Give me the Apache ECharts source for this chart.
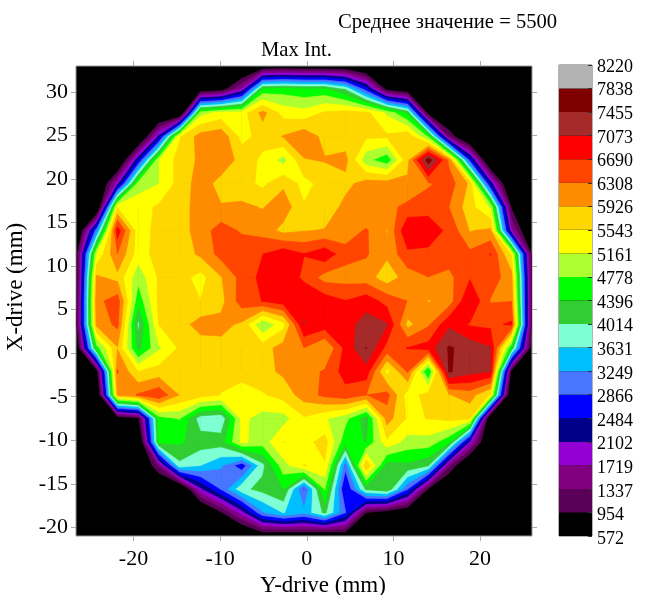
<!DOCTYPE html>
<html>
<head>
<meta charset="utf-8">
<style>html,body{margin:0;padding:0;background:#fff}#c{width:651px;height:595px}</style>
<script src="https://cdn.jsdelivr.net/npm/echarts@6/dist/echarts.min.js"></script>
</head>
<body>
<div id="c"></div>
<script>
const xNodes=[-26.64,-24.25,-21.85,-19.46,-17.07,-14.68,-12.28,-9.89,-7.5,-5.1,-2.71,-0.32,2.07,4.46,6.86,9.25,11.64,14.04,16.43,18.82,21.21,23.61,26];
const yNodes=[33,30.3,27.6,24.9,22.2,19.5,16.8,14.1,11.4,8.7,6,3.3,0.6,-2.1,-4.8,-7.5,-10.2,-12.9,-15.6,-18.3,-21];
const levels=[572,954,1337,1719,2102,2484,2866,3249,3631,4014,4396,4778,5161,5543,5926,6308,6690,7073,7455,7838,8220];
const bandColors=['#000000','#5a0058','#800080','#9400d3','#00008b','#0000ff','#4876ff','#00bfff','#7fffd4','#32cd32','#00ff00','#adff2f','#ffff00','#ffd700','#ff8c00','#ff4500','#ff0000','#a52a2a','#800000','#b3b3b3'];
const xTicks=[-20,-10,0,10,20];
const yTicks=[-20,-15,-10,-5,0,5,10,15,20,25,30];
const zRows=[
[0,0,0,0,0,0,0,0,0,400,500,430,430,400,100,0,0,0,0,0,0,0,0],
[0,0,0,0,0,0,500,700,1800,4500,4600,4500,4500,4000,2700,800,500,0,0,0,0,0,0],
[0,0,0,0,0,0,5000,5300,5350,6050,5400,5300,5600,5700,5650,5100,4300,700,0,0,0,0,0],
[0,0,0,0,2200,5500,6100,6200,5400,5700,5950,6200,5800,5700,5600,5600,5850,4700,1300,0,0,0,0],
[0,0,0,2400,5150,5700,6000,6150,5800,5450,5000,5900,5950,6050,4900,4500,5800,7700,6200,2700,0,0,0],
[0,0,1900,4950,5150,5700,6100,5800,5700,5450,5850,5400,5700,5800,6100,6100,6000,6250,6500,5850,2300,0,0],
[0,0,5500,5400,5600,5750,6100,5950,6000,5900,6150,5580,5650,6050,5920,6200,6400,6550,6300,5700,5100,900,0],
[0,3100,6900,5300,5700,5750,6100,6500,6250,6150,5800,5900,5950,6100,6350,5900,7050,6900,6600,5900,6000,1800,0],
[700,5200,6300,5350,5700,5700,6000,6450,6600,6680,6950,6700,6950,6450,6350,6000,6600,6600,6500,6400,6700,5500,800],
[600,6000,5800,4900,5600,5700,5400,5900,6450,6800,7000,6600,6150,6150,6100,5700,6100,6300,6200,6650,6500,6100,900],
[700,6200,6500,4500,5650,5700,5550,5800,6500,6700,6900,7050,6900,6700,6900,6550,6300,5900,6100,7080,6280,6300,900],
[800,6050,6400,3900,5550,5750,6100,6050,5850,4800,5400,7080,6900,6900,7250,7100,5800,6250,7000,6650,6600,6750,800],
[300,4600,5900,4250,5100,5600,5700,5800,5700,5750,6100,6300,5900,6800,7460,6550,6700,6850,7500,7300,7100,4400,600],
[0,700,6350,5540,5700,5700,5700,5650,5700,5800,6000,6150,6350,6850,6900,5400,6350,4300,7500,7200,7080,800,0],
[0,0,5950,6350,6600,5900,5700,5530,5350,5500,5700,6100,6400,6550,6300,6450,5350,5700,5900,6100,5500,0,0],
[0,0,500,800,4600,4800,3800,3700,5250,5000,5000,5500,5200,4900,4150,6100,5500,5550,5650,5600,0,0,0],
[0,0,0,0,4500,4450,4200,4200,5250,4950,5550,5400,5700,4500,4380,5450,5000,5000,4500,2000,0,0,0],
[0,0,0,0,1400,3900,3630,3300,2600,3900,5000,5550,5500,3000,5900,4200,4300,4050,1400,0,0,0,0],
[0,0,0,0,0,0,2000,2900,3900,4150,4400,2800,4800,2400,4100,4350,2900,900,0,0,0,0,0],
[0,0,0,0,0,0,0,900,1900,3200,3650,3350,4100,2900,950,650,400,0,0,0,0,0,0],
[0,0,0,0,0,0,0,0,0,490,400,450,300,530,0,0,0,0,0,0,0,0,0]
];

const serif='"Liberation Serif","Times New Roman",serif';
const bands=bandColors.map((c,i)=>[i]);

function renderContour(params,api){
  const i=api.value(0);
  if(i===0)return {type:'group',children:[]};
  const L=levels[i],U=levels[i+1];
  const children=[];
  const cross=(a,b)=>{const t=(L-a.v)/(b.v-a.v);return api.coord([a.x+t*(b.x-a.x),a.y+t*(b.y-a.y)]);};
  const add=pts=>{if(pts.length>2)children.push({type:'polygon',shape:{points:pts},style:{fill:bandColors[i],stroke:bandColors[i],lineWidth:0.7}});};
  for(let j=0;j<yNodes.length-1;j++)for(let k=0;k<xNodes.length-1;k++){
    const c=[[k,j],[k+1,j],[k+1,j+1],[k,j+1]].map(([a,b])=>({x:xNodes[a],y:yNodes[b],v:zRows[b][a]}));
    const vals=c.map(p=>p.v);
    if(Math.max(...vals)<L)continue;
    if(Math.min(...vals)>=U)continue;
    const up=vals.map(v=>v>=L);
    const saddle=up[0]===up[2]&&up[1]===up[3]&&up[0]!==up[1];
    const mean=(vals[0]+vals[1]+vals[2]+vals[3])/4;
    if(saddle&&mean<L){
      for(let e=0;e<4;e++)if(up[e]){
        const p=c[(e+3)%4],q=c[(e+1)%4];
        add([cross(p,c[e]),api.coord([c[e].x,c[e].y]),cross(c[e],q)]);
      }
      continue;
    }
    const pts=[];
    for(let e=0;e<4;e++){
      const a=c[e],b=c[(e+1)%4];
      if(a.v>=L)pts.push(api.coord([a.x,a.y]));
      if((a.v-L)*(b.v-L)<0)pts.push(cross(a,b));
    }
    add(pts);
  }
  return {type:'group',children};
}
function renderBand(params,api){
  const i=api.value(0);
  const a=api.coord([0,levels[i]]),b=api.coord([1,levels[i+1]]);
  return {type:'rect',shape:{x:a[0],y:b[1],width:b[0]-a[0],height:a[1]-b[1]},style:{fill:bandColors[i]}};
}
const tick={show:true,length:5,lineStyle:{color:'#aaa',width:1}};
const noLine={show:false,onZero:false};
const chart=echarts.init(document.getElementById('c'),null,{renderer:'canvas'});
chart.setOption({
  animation:false,
  backgroundColor:'#fff',
  title:[
    {text:'Среднее значение = 5500',left:338,top:12,padding:0,textStyle:{fontFamily:serif,fontSize:20.6,fontWeight:'normal',color:'#000'}},
    {text:'Max Int.',left:261,top:40,padding:0,textStyle:{fontFamily:serif,fontSize:20.6,fontWeight:'normal',color:'#000'}}
  ],
  grid:[
    {left:76,top:66,width:456,height:470,show:true,backgroundColor:'#000',borderColor:'#999',borderWidth:1,outerBoundsMode:'none'},
    {left:559,top:65,width:33,height:471,show:true,backgroundColor:'#000',borderColor:'#666',borderWidth:1,outerBoundsMode:'none'},
    {left:559,top:67,width:33,height:472,show:false,outerBoundsMode:'none'}
  ],
  xAxis:[
    {type:'value',gridIndex:0,min:-26.64,max:26,position:'bottom',splitLine:{show:false},axisLine:noLine,
     axisTick:Object.assign({customValues:xTicks},tick),
     axisLabel:{customValues:xTicks,fontFamily:serif,fontSize:22,color:'#000',margin:12},
     name:'Y-drive (mm)',nameLocation:'middle',nameGap:37,nameTextStyle:{fontFamily:serif,fontSize:23,color:'#000',padding:[0,0,0,38]}},
    {type:'value',gridIndex:0,min:-26.64,max:26,position:'top',splitLine:{show:false},axisLine:noLine,
     axisTick:Object.assign({customValues:xTicks},tick),axisLabel:{show:false}},
    {type:'value',gridIndex:1,min:0,max:1,show:false},
    {type:'value',gridIndex:2,min:0,max:1,show:false}
  ],
  yAxis:[
    {type:'value',gridIndex:0,min:-21,max:33,position:'left',splitLine:{show:false},axisLine:noLine,
     axisTick:Object.assign({customValues:yTicks},tick),
     axisLabel:{customValues:yTicks,fontFamily:serif,fontSize:22,color:'#000',margin:8},
     name:'X-drive (mm)',nameLocation:'middle',nameGap:43,nameTextStyle:{fontFamily:serif,fontSize:23,color:'#000',padding:[0,0,0,28]}},
    {type:'value',gridIndex:0,min:-21,max:33,position:'right',splitLine:{show:false},axisLine:noLine,
     axisTick:Object.assign({customValues:yTicks},tick),axisLabel:{show:false}},
    {type:'value',gridIndex:1,min:572,max:8220,position:'right',z:5,splitLine:{show:false},axisLine:noLine,
     axisTick:{show:true,inside:true,length:4,customValues:levels,lineStyle:{color:'#333',width:1}},axisLabel:{show:false}},
    {type:'value',gridIndex:2,min:572,max:8220,position:'right',splitLine:{show:false},axisLine:noLine,axisTick:{show:false},
     axisLabel:{customValues:levels,formatter:v=>String(v),fontFamily:serif,fontSize:18,color:'#000',margin:5}}
  ],
  series:[
    {type:'custom',xAxisIndex:0,yAxisIndex:0,clip:true,silent:true,data:bands,renderItem:renderContour,encode:{x:[],y:[]}},
    {type:'custom',xAxisIndex:2,yAxisIndex:2,silent:true,data:bands,renderItem:renderBand,encode:{x:[],y:[]}}
  ]
});
</script>
</body>
</html>
